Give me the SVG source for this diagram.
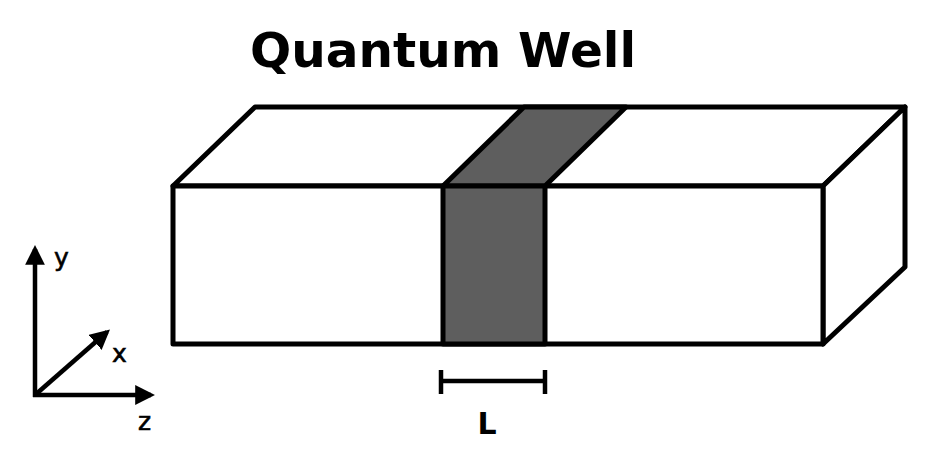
<svg xmlns="http://www.w3.org/2000/svg" width="948" height="459" viewBox="0 0 948 459">
<defs>
<style>
.e{fill:#fff;stroke:#000;stroke-width:5;stroke-linejoin:round}
.w{fill:#5e5e5e;stroke:#000;stroke-width:5;stroke-linejoin:round}
.ax{stroke:#000;stroke-width:4.5;fill:none}
.lbl{font-family:"DejaVu Sans",sans-serif;font-size:25px;fill:#000;stroke:#000;stroke-width:0.6}
</style>
<marker id="ah" viewBox="0 0 10 10" refX="8" refY="5" markerWidth="4.4" markerHeight="4.4" orient="auto" markerUnits="strokeWidth">
<path d="M0,0 L10,5 L0,10 Z" fill="#000"/>
</marker>
</defs>
<rect width="948" height="459" fill="#fff"/>
<text x="443" y="67" text-anchor="middle" font-family="DejaVu Sans, sans-serif" font-weight="bold" font-size="48.5">Quantum Well</text>
<g id="box">
<polygon class="e" points="173,186 255,107 905,107 823,186"/>
<polygon class="e" points="823,186 905,107 905,267 823,344"/>
<rect class="e" x="173" y="186" width="650" height="158"/>
</g>
<g id="well">
<polygon class="w" points="443,186 524,107 626,107 545,186"/>
<rect class="w" x="443" y="186" width="102" height="158"/>
</g>
<g id="axes">
<line class="ax" x1="35" y1="397" x2="35" y2="249" marker-end="url(#ah)"/>
<line class="ax" x1="33" y1="395" x2="151" y2="395" marker-end="url(#ah)"/>
<line class="ax" x1="35" y1="395" x2="107" y2="332" marker-end="url(#ah)"/>
<text class="lbl" x="54" y="266">y</text>
<text class="lbl" x="112" y="362">x</text>
<text class="lbl" x="138" y="430">z</text>
</g>
<g id="length">
<line class="ax" x1="441" y1="381" x2="545" y2="381"/>
<line class="ax" x1="441" y1="370" x2="441" y2="394"/>
<line class="ax" x1="545" y1="370" x2="545" y2="394"/>
<text x="487" y="434" text-anchor="middle" font-family="DejaVu Sans, sans-serif" font-weight="bold" font-size="30">L</text>
</g>
</svg>
